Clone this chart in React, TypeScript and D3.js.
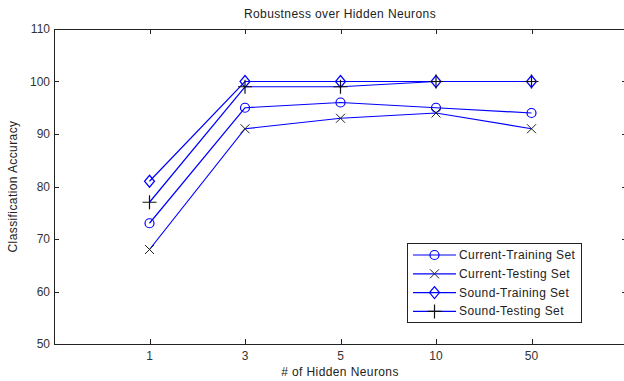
import { useEffect, useRef } from "react";
import * as d3 from "d3";

const neurons = ["1", "3", "5", "10", "50"];
const currentTraining = [73, 95, 96, 95, 94];
const currentTesting = [68, 91, 93, 94, 91];
const soundTraining = [81, 100, 100, 100, 100];
const soundTesting = [77, 99, 99, 100, 100];
const yTicks = [50, 60, 70, 80, 90, 100, 110];

const series = [
    { name: "Current-Training Set", values: currentTraining, marker: "circle" },
    { name: "Current-Testing Set", values: currentTesting, marker: "x" },
    { name: "Sound-Training Set", values: soundTraining, marker: "diamond" },
    { name: "Sound-Testing Set", values: soundTesting, marker: "plus" },
];

export default function App() {
    const svgRef = useRef<SVGSVGElement | null>(null);

    useEffect(() => {
        if (!svgRef.current) return;
        const svg = d3.select(svgRef.current);
        svg.selectAll("*").remove();

        const width = 624;
        const height = 381;
        const left = 54;
        const right = 627;
        const top = 29;
        const bottom = 344;
        const font = "Arial, 'Liberation Sans', sans-serif";
        const blue = "#0000ff";
        const spacing = "0.4px";

        svg.append("rect").attr("width", width).attr("height", height).attr("fill", "#fff");

        const x = d3.scaleLinear().domain([0, neurons.length + 1]).range([left, right]);
        const y = d3.scaleLinear().domain([50, 110]).range([bottom, top]);

        // axis box
        svg.append("rect")
            .attr("x", left + 0.5)
            .attr("y", top + 0.5)
            .attr("width", right - left)
            .attr("height", bottom - top)
            .attr("fill", "none")
            .attr("stroke", "#222")
            .attr("stroke-width", 1);

        const ticks = svg.append("g").attr("stroke", "#222").attr("stroke-width", 1);
        neurons.forEach((_, i) => {
            const px = Math.round(x(i + 1)) + 0.5;
            ticks.append("line").attr("x1", px).attr("x2", px).attr("y1", bottom).attr("y2", bottom - 5);
            ticks.append("line").attr("x1", px).attr("x2", px).attr("y1", top).attr("y2", top + 5);
        });
        yTicks.forEach((v) => {
            const py = Math.round(y(v)) + 0.5;
            ticks.append("line").attr("x1", left).attr("x2", left + 5).attr("y1", py).attr("y2", py);
            ticks.append("line").attr("x1", right).attr("x2", right - 5).attr("y1", py).attr("y2", py);
        });

        // tick labels
        svg.append("g")
            .selectAll("text")
            .data(neurons)
            .enter()
            .append("text")
            .attr("x", (d, i) => x(i + 1))
            .attr("y", bottom + 16)
            .attr("text-anchor", "middle")
            .attr("font-family", font)
            .attr("font-size", "12px")
            .attr("fill", "#333")
            .text((d) => d);

        svg.append("g")
            .selectAll("text")
            .data(yTicks)
            .enter()
            .append("text")
            .attr("x", left - 4)
            .attr("y", (d) => y(d) + 4)
            .attr("text-anchor", "end")
            .attr("font-family", font)
            .attr("font-size", "12px")
            .attr("fill", "#333")
            .text((d) => d);

        // titles
        svg.append("text")
            .attr("x", 340)
            .attr("y", 18)
            .attr("text-anchor", "middle")
            .attr("font-family", font)
            .attr("font-size", "12px")
            .attr("letter-spacing", spacing)
            .attr("fill", "#222")
            .text("Robustness over Hidden Neurons");

        svg.append("text")
            .attr("x", 340)
            .attr("y", 376)
            .attr("text-anchor", "middle")
            .attr("font-family", font)
            .attr("font-size", "12px")
            .attr("letter-spacing", spacing)
            .attr("fill", "#222")
            .text("# of Hidden Neurons");

        svg.append("text")
            .attr("transform", `translate(17, ${(top + bottom) / 2}) rotate(-90)`)
            .attr("text-anchor", "middle")
            .attr("font-family", font)
            .attr("font-size", "12px")
            .attr("letter-spacing", spacing)
            .attr("fill", "#222")
            .text("Classification Accuracy");

        const drawMarker = (g: any, type: string, cx: number, cy: number) => {
            if (type === "circle") {
                g.append("circle").attr("cx", cx).attr("cy", cy).attr("r", 4.5)
                    .attr("fill", "none").attr("stroke", blue).attr("stroke-width", 1.2);
            } else if (type === "diamond") {
                g.append("path")
                    .attr("d", `M${cx},${cy - 6}L${cx + 5},${cy}L${cx},${cy + 6}L${cx - 5},${cy}Z`)
                    .attr("fill", "none").attr("stroke", blue).attr("stroke-width", 1.2);
            } else if (type === "x") {
                const s = 4.5;
                g.append("path")
                    .attr("d", `M${cx - s},${cy - s}L${cx + s},${cy + s}M${cx - s},${cy + s}L${cx + s},${cy - s}`)
                    .attr("stroke", "#222").attr("stroke-width", 1);
            } else {
                const s = 7;
                g.append("path")
                    .attr("d", `M${cx - s},${cy}L${cx + s},${cy}M${cx},${cy - s}L${cx},${cy + s}`)
                    .attr("stroke", "#111").attr("stroke-width", 1.2);
            }
        };

        const line = d3
            .line<number>()
            .x((d, i) => x(i + 1))
            .y((d) => y(d));

        series.forEach((s) => {
            const g = svg.append("g");
            g.append("path")
                .attr("d", line(s.values))
                .attr("fill", "none")
                .attr("stroke", blue)
                .attr("stroke-width", 1.2);
            s.values.forEach((v, i) => drawMarker(g, s.marker, x(i + 1), y(v)));
        });

        // legend
        const lg = svg.append("g");
        lg.append("rect")
            .attr("x", 407.5)
            .attr("y", 243.5)
            .attr("width", 174)
            .attr("height", 79)
            .attr("fill", "#fff")
            .attr("stroke", "#222")
            .attr("stroke-width", 1);
        series.forEach((s, i) => {
            const ly = 255 + i * 18.8;
            lg.append("line")
                .attr("x1", 413).attr("x2", 456)
                .attr("y1", ly).attr("y2", ly)
                .attr("stroke", blue).attr("stroke-width", 1.2);
            drawMarker(lg, s.marker, 434.5, ly);
            lg.append("text")
                .attr("x", 459)
                .attr("y", ly + 4)
                .attr("font-family", font)
                .attr("font-size", "12px")
                .attr("letter-spacing", spacing)
                .attr("fill", "#222")
                .text(s.name);
        });
    }, []);

    return (
        <svg
            ref={svgRef}
            width={624}
            height={381}
            style={{ position: "absolute", left: 0, top: 0, display: "block" }}
        />
    );
}
